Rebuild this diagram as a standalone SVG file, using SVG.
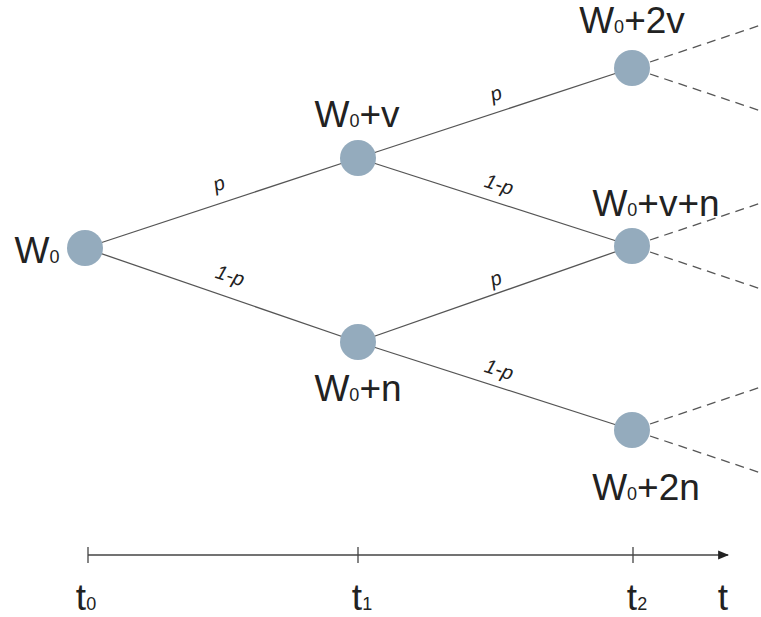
<svg xmlns="http://www.w3.org/2000/svg" width="761" height="617" viewBox="0 0 761 617">
<defs>
<style>
.edge{stroke:#555;stroke-width:1.3;fill:none}
.dash{stroke:#555;stroke-width:1.3;fill:none;stroke-dasharray:9 6}
.node{fill:#94abbd}
.lbl{font-family:"Liberation Sans",Arial,sans-serif;font-size:37px;fill:#222;text-anchor:middle}
.sub{font-size:18px}
.el{font-family:"Liberation Sans",Arial,sans-serif;font-size:20px;font-style:italic;fill:#222;text-anchor:middle}
.axis{stroke:#444;stroke-width:1.3;fill:none}
</style>
<marker id="arr" viewBox="0 0 10 10" refX="9" refY="5" markerWidth="11" markerHeight="11" markerUnits="userSpaceOnUse" orient="auto">
<path d="M0,1 L10,5 L0,9 z" fill="#222"/>
</marker>
</defs>
<rect width="761" height="617" fill="#fff"/>
<g id="connectors">
<line class="edge" x1="85" y1="248" x2="358" y2="158"/>
<line class="edge" x1="85" y1="248" x2="358" y2="342"/>
<line class="edge" x1="358" y1="158" x2="632" y2="68"/>
<line class="edge" x1="358" y1="158" x2="632" y2="246"/>
<line class="edge" x1="358" y1="342" x2="632" y2="246"/>
<line class="edge" x1="358" y1="342" x2="632" y2="430"/>
<line class="dash" x1="650" y1="62" x2="761" y2="25"/>
<line class="dash" x1="650" y1="74" x2="761" y2="111"/>
<line class="dash" x1="650" y1="240" x2="761" y2="203"/>
<line class="dash" x1="650" y1="252" x2="761" y2="289"/>
<line class="dash" x1="650" y1="424" x2="761" y2="387"/>
<line class="dash" x1="650" y1="436" x2="761" y2="473"/>
<text class="el" transform="translate(221,190) rotate(-18.2)">p</text>
<text class="el" transform="translate(228,282) rotate(18.2)">1-p</text>
<text class="el" transform="translate(498,100) rotate(-18.2)">p</text>
<text class="el" transform="translate(497,191) rotate(17.8)">1-p</text>
<text class="el" transform="translate(498,285) rotate(-19.3)">p</text>
<text class="el" transform="translate(497,376) rotate(17.8)">1-p</text>
</g>
<g id="n0"><circle class="node" cx="85" cy="248" r="18"/><text class="lbl" x="37" y="263">W<tspan class="sub">0</tspan></text></g>
<g id="n1"><circle class="node" cx="358" cy="158" r="18"/><text class="lbl" x="357" y="127">W<tspan class="sub">0</tspan>+v</text></g>
<g id="n2"><circle class="node" cx="358" cy="342" r="18"/><text class="lbl" x="358" y="401">W<tspan class="sub">0</tspan>+n</text></g>
<g id="n3"><circle class="node" cx="632" cy="68" r="18"/><text class="lbl" x="632" y="33">W<tspan class="sub">0</tspan>+2v</text></g>
<g id="n4"><circle class="node" cx="632" cy="246" r="18"/><text class="lbl" x="656" y="216">W<tspan class="sub">0</tspan>+v+n</text></g>
<g id="n5"><circle class="node" cx="632" cy="430" r="18"/><text class="lbl" x="646" y="500">W<tspan class="sub">0</tspan>+2n</text></g>
<g id="axis">
<line class="axis" x1="88" y1="555" x2="728" y2="555" marker-end="url(#arr)"/>
<line class="axis" x1="88" y1="547" x2="88" y2="563"/>
<line class="axis" x1="358" y1="547" x2="358" y2="563"/>
<line class="axis" x1="633" y1="547" x2="633" y2="563"/>
<text class="lbl" x="86" y="610">t<tspan class="sub">0</tspan></text>
<text class="lbl" x="362" y="610">t<tspan class="sub">1</tspan></text>
<text class="lbl" x="637" y="610">t<tspan class="sub">2</tspan></text>
<text class="lbl" x="723" y="610">t</text>
</g>
</svg>
